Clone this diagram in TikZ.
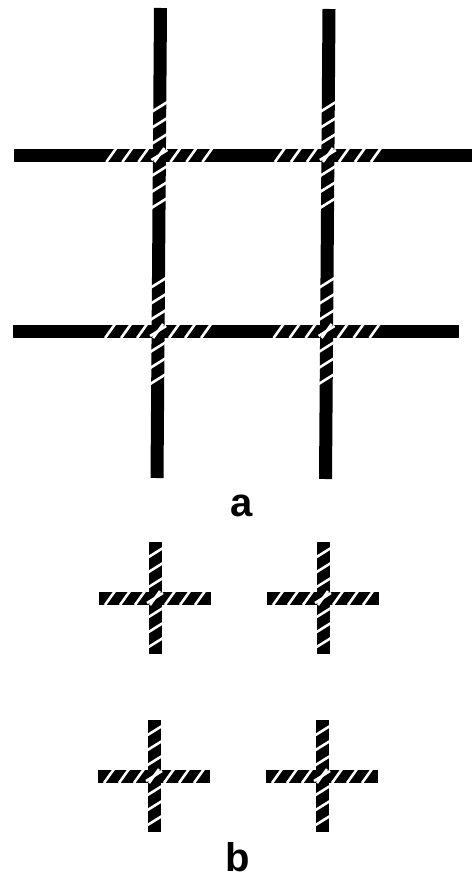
\documentclass[tikz,border=0pt]{standalone}
\usepackage{fontspec}
\setmainfont{Liberation Sans}
\tikzset{
  rod/.style={line width=13pt},
  twist/.style={white,line width=2.6pt},
  panel/.style={font=\fontsize{40}{40}\selectfont\bfseries,anchor=base,inner sep=0pt}
}

\begin{document}
\begin{tikzpicture}[x=1pt,y=-1pt]
  \useasboundingbox (0,0) rectangle (476,880);
  % (a) two crossing pairs of rods, twisted only round the crossings
  \draw[rod] (160.5,8) -- (157,478);
  \draw[rod] (329,9) -- (325.5,479);
  \draw[rod] (14,155) -- (472,155);
  \draw[rod] (13,331) -- (459,331);
  \foreach \cx/\cy in {159.4/155, 327.9/155, 158.1/331, 326.6/331} {
    \foreach \d in {-48,-32,...,48} \draw[twist] (\cx+\d-5,\cy+7) -- (\cx+\d+5,\cy-7);
    \foreach \d in {-48,-32,...,48} \draw[twist] (\cx-8,\cy+\d+5) -- (\cx+8,\cy+\d-5);
  }
  \node[panel] (lbla) at (242,516) {a};
  % (b) the crossings on their own, twisted all along
  \foreach \cx/\cy in {155/598, 323/598, 154/776, 322/776} {
    \draw[rod] (\cx-56,\cy) -- (\cx+56,\cy);
    \draw[rod] (\cx,\cy-56) -- (\cx,\cy+56);
    \foreach \d in {-45,-30,...,45} \draw[twist] (\cx+\d-5,\cy+7) -- (\cx+\d+5,\cy-7);
    \foreach \d in {-45,-30,...,45} \draw[twist] (\cx-8,\cy+\d+5) -- (\cx+8,\cy+\d-5);
  }
  \node[panel] (lblb) at (238,871) {b};
\end{tikzpicture}
\end{document}
